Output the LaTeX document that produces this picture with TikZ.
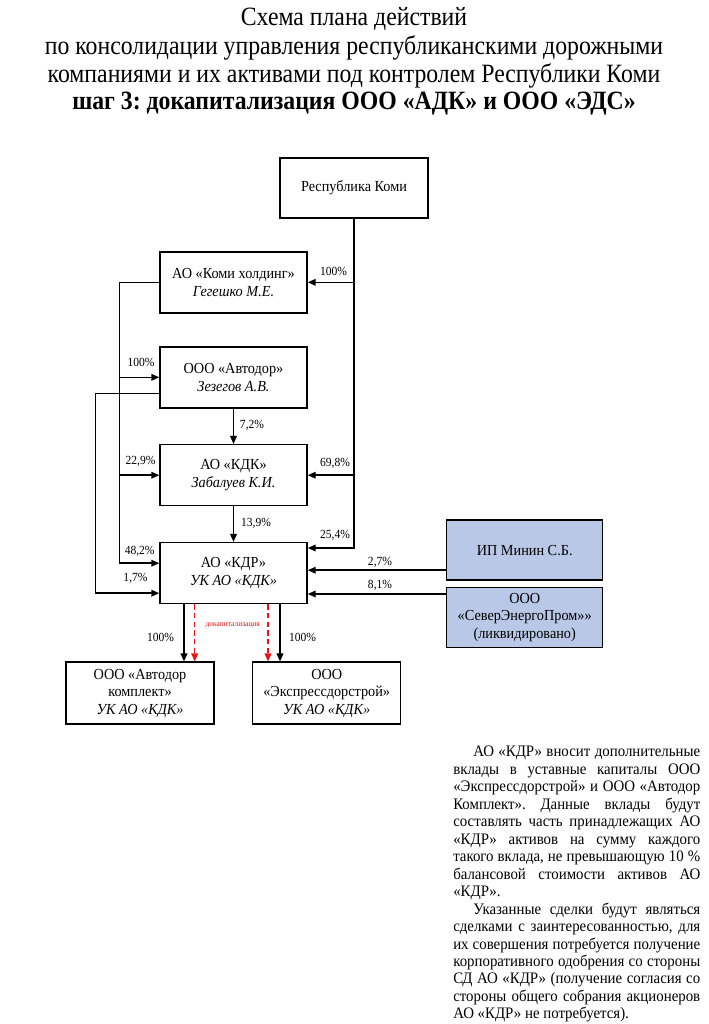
\documentclass[tikz,border=0pt]{standalone}
\usepackage{fontspec}
\setmainfont[FakeStretch=0.93]{Liberation Serif}
\newfontfamily\titlefont[FakeStretch=0.9]{Liberation Serif}
\usetikzlibrary{arrows.meta,calc}
\definecolor{boxblue}{RGB}{184,200,230}
\definecolor{darkred}{RGB}{230,20,20}
\frenchspacing
\begin{document}
\begin{tikzpicture}[x=0.75pt,y=-0.75pt,
  box/.style={draw, line width=1.1pt, minimum width=110.25pt, minimum height=45.75pt, align=center, inner sep=1pt, font=\fontsize{11.5}{13.2}\selectfont},
  bluebox/.style={box, fill=boxblue, minimum width=117pt, minimum height=45pt},
  arr/.style={line width=1.1pt, -{Triangle[length=6pt,width=5pt]}},
  redarr/.style={line width=1.1pt, darkred, dashed, dash pattern=on 4pt off 2.5pt, -{Triangle[length=6pt,width=5pt]}},
  lab/.style={inner sep=0pt, font=\fontsize{9.3}{10}\selectfont},
  ttl/.style={anchor=base, inner sep=0pt, font=\titlefont\fontsize{19.8}{21}\selectfont}]
\useasboundingbox (0,0) rectangle (708,1024);
% title
\node[ttl] (t1) at (354,26) {Схема плана действий};
\node[ttl] (t2) at (354,54.3) {по консолидации управления республиканскими дорожными};
\node[ttl] (t3) at (354,82.5) {компаниями и их активами под контролем Республики Коми};
\node[ttl,font=\titlefont\fontsize{19.8}{21}\selectfont\bfseries] (t4) at (354,109.5) {шаг 3: докапитализация ООО «АДК» и ООО «ЭДС»};
% boxes
\node[box, minimum width=111pt, minimum height=45pt] (rk) at (354,188) {Республика Коми};
\node[box] (kh) at (233.5,282.3) {АО «Коми холдинг»\\\textit{Гегешко М.Е.}};
\node[box] (ad) at (233.5,377.3) {ООО «Автодор»\\\textit{Зезегов А.В.}};
\node[box] (kdk) at (233.5,475.2) {АО «КДК»\\\textit{Забалуев К.И.}};
\node[box] (kdr) at (233.5,573.2) {АО «КДР»\\\textit{УК АО «КДК»}};
\node[bluebox] (mn) at (524.7,550.2) {ИП Минин С.Б.};
\node[bluebox] (sep) at (524.7,617.3) {ООО\\«СеверЭнергоПром»»\\(ликвидировано)};
\node[box, minimum width=111pt, minimum height=46.5pt] (adk) at (140,693.2) {ООО «Автодор\\комплект»\\\textit{УК АО «КДК»}};
\node[box, minimum width=111pt, minimum height=46.5pt] (eds) at (326.7,693.2) {ООО\\«Экспрессдорстрой»\\\textit{УК АО «КДК»}};
% right trunk
\coordinate (tr) at ($(kdr.north east)+(0,6)$);
\draw[arr] (rk.south) |- (tr);
\draw[arr] (rk.south |- kh.east) -- (kh.east);
\draw[arr] (rk.south |- kdk.east) -- (kdk.east);
% left bus from Komi holding
\coordinate (lb) at ($(kh.west)+(-40,0)$);
\coordinate (lk) at ($(kdr.west)+(0,-10)$);
\draw[arr] (kh.west) -- (lb) |- (lk);
\draw[arr] (lb |- ad.west) -- (ad.west);
\draw[arr] (lb |- kdk.west) -- (kdk.west);
% outer bus from Avtodor
\coordinate (ao) at ($(ad.west)+(0,16)$);
\coordinate (ob) at ($(ao)+(-64,0)$);
\coordinate (lk2) at ($(kdr.west)+(0,20)$);
\draw[arr] (ao) -- (ob) |- (lk2);
% vertical chain
\draw[arr] (ad.south) -- (kdk.north);
\draw[arr] (kdk.south) -- (kdr.north);
% from right boxes
\coordinate (m1) at ($(mn.west)+(0,20)$);
\draw[arr] (m1) -- (m1 -| kdr.east);
\coordinate (s1) at ($(sep.west)+(0,-23.3)$);
\draw[arr] (s1) -- (s1 -| kdr.east);
% bottom
\coordinate (b1) at ($(kdr.south)+(-49.5,0)$);
\coordinate (b2) at ($(kdr.south)+(-38.8,0)$);
\coordinate (b3) at ($(kdr.south)+(34.5,0)$);
\coordinate (b4) at ($(kdr.south)+(46.5,0)$);
\draw[arr] (b1) -- (b1 |- adk.north);
\draw[redarr] (b2) -- (b2 |- adk.north);
\draw[redarr] (b3) -- (b3 |- eds.north);
\draw[arr] (b4) -- (b4 |- eds.north);
% labels
\node[lab] (l1) at (333.6,271.7) {100\%};
\node[lab] (l2) at (141,362) {100\%};
\node[lab] (l3) at (252,425) {7,2\%};
\node[lab] (l4) at (140.5,461.7) {22,9\%};
\node[lab] (l5) at (335,463) {69,8\%};
\node[lab] (l6) at (256,523) {13,9\%};
\node[lab] (l7) at (335,535) {25,4\%};
\node[lab] (l8) at (139.7,551.7) {48,2\%};
\node[lab] (l9) at (135.5,578) {1,7\%};
\node[lab] (l10) at (380,562.7) {2,7\%};
\node[lab] (l11) at (380,585.7) {8,1\%};
\node[lab] (l12) at (160.5,637) {100\%};
\node[lab] (l13) at (302.5,637) {100\%};
\node[inner sep=0pt, text=darkred, font=\fontsize{6}{7}\selectfont] (rl) at (232.8,625.7) {докапитализация};
% paragraph
\node[anchor=north west, inner sep=0pt, text width=185.25pt, align=justify, font=\fontsize{12}{13.1}\selectfont] (txt) at (453,746) {%
\setlength{\parindent}{15pt}\indent АО «КДР» вносит дополнительные\linebreak
вклады в уставные капиталы ООО\linebreak
«Экспрессдорстрой» и ООО «Автодор\linebreak
Комплект». Данные вклады будут\linebreak
составлять часть принадлежащих АО\linebreak
«КДР» активов на сумму каждого\linebreak
такого вклада, не превышающую 10~\%\linebreak
балансовой стоимости активов АО\linebreak
«КДР».\par
\indent Указанные сделки будут являться\linebreak
сделками с заинтересованностью, для\linebreak
их совершения потребуется получение\linebreak
корпоративного одобрения со стороны\linebreak
СД АО «КДР» (получение согласия со\linebreak
стороны общего собрания акционеров\linebreak
АО «КДР» не потребуется).};
\end{tikzpicture}
\end{document}
